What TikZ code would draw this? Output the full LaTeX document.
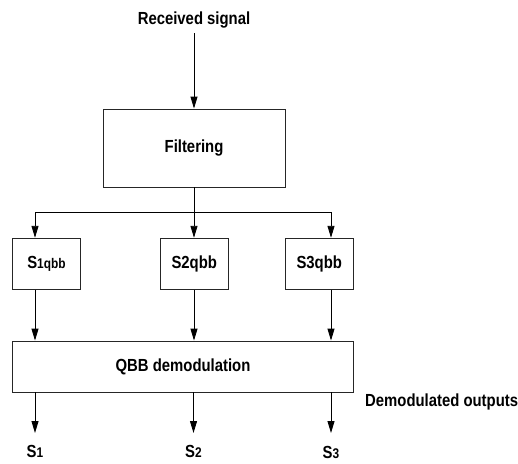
\documentclass[tikz,border=0pt]{standalone}
\usepackage{fontspec}
\setmainfont[FakeStretch=0.85]{Liberation Sans}
\usetikzlibrary{arrows.meta}
\begin{document}
\begin{tikzpicture}[x=1pt,y=-1pt,
  every node/.style={font=\fontsize{17.5}{20}\selectfont\bfseries},
  box/.style={draw=black!85, line width=0.9pt, minimum width=#1, inner sep=0pt},
  txt/.style={inner sep=0pt},
  arr/.style={line width=0.9pt, -{Triangle[length=12pt,width=7pt]}},
  ln/.style={line width=0.9pt}]
\useasboundingbox (0,0) rectangle (518,463);
\fill[white] (0,0) rectangle (518,463);
\node[txt] (recv) at (194,20) {Received signal};
\node[box=182pt, minimum height=78pt] (filt) at (194,148) {Filtering};
\node[box=68pt, minimum height=51.5pt] (s1) at (46.5,264) {S{\fontsize{14}{16}\selectfont 1qbb}};
\node[box=68.5pt, minimum height=51.5pt] (s2) at (194.25,264) {S2qbb};
\node[box=68.5pt, minimum height=51.5pt] (s3) at (319.25,264) {S3qbb};
\node[box=341pt, minimum height=51pt] (qbb) at (183,366.5) {QBB demodulation};
\coordinate (b1) at (35,212);
\coordinate (b2) at (194,212);
\coordinate (b3) at (331,212);
\coordinate (o1) at (35,433);
\coordinate (o2) at (193.5,433);
\coordinate (o3) at (331,433);
\node[txt] (out1) at (35,451.5) {S{\fontsize{14}{16}\selectfont 1}};
\node[txt] (out2) at (193.5,451.5) {S{\fontsize{14}{16}\selectfont 2}};
\node[txt] (out3) at (331,452) {S{\fontsize{14}{16}\selectfont 3}};
\node[txt, anchor=west] (dem) at (365,402) {Demodulated outputs};
\draw[arr] (recv.south |- 0,33) -- (filt.north);
\draw[ln] (filt.south) -- (b2);
\draw[ln] (b1) -- (b3);
\draw[arr] (b1) -- (b1 |- s1.north);
\draw[arr] (b2) -- (b2 |- s2.north);
\draw[arr] (b3) -- (b3 |- s3.north);
\draw[arr] (b1 |- s1.south) -- (b1 |- qbb.north);
\draw[arr] (b2 |- s2.south) -- (b2 |- qbb.north);
\draw[arr] (b3 |- s3.south) -- (b3 |- qbb.north);
\draw[arr] (o1 |- qbb.south) -- (o1);
\draw[arr] (o2 |- qbb.south) -- (o2);
\draw[arr] (o3 |- qbb.south) -- (o3);
\end{tikzpicture}
\end{document}
